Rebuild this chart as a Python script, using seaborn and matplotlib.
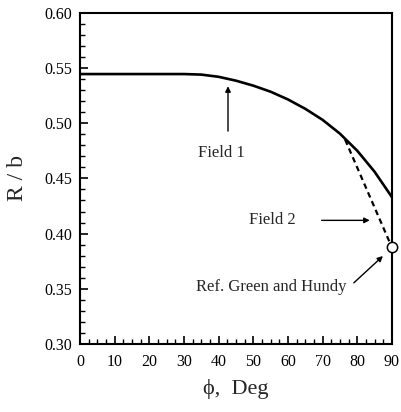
import matplotlib
matplotlib.use("Agg")
import matplotlib.pyplot as plt
import seaborn as sns
import pandas as pd
from matplotlib.ticker import MultipleLocator, FormatStrFormatter

# Field 1 (solid curve)
phi1 = [0, 10, 20, 30, 35, 40, 45, 50, 55, 60, 65, 70, 75, 80, 85, 90]
rb1 = [0.5445, 0.5445, 0.5445, 0.5445, 0.5440, 0.5420, 0.5385, 0.5340, 0.5285, 0.5215, 0.5130, 0.5030, 0.4905, 0.4750, 0.4560, 0.4330]
# Field 2 (dashed)
phi2 = [76.5, 89.5]
rb2 = [0.4850, 0.3910]
# Reference point (Green and Hundy)
phi_ref = [90]
rb_ref = [0.388]

df1 = pd.DataFrame({"phi": phi1, "rb": rb1})
df2 = pd.DataFrame({"phi": phi2, "rb": rb2})
dfr = pd.DataFrame({"phi": phi_ref, "rb": rb_ref})

sns.set_theme(style="ticks")
plt.rcParams["font.family"] = ["Liberation Serif", "DejaVu Serif"]

fig = plt.figure(figsize=(4.02, 4.12), dpi=100)
ax = fig.add_axes([0.199, 0.165, 0.776, 0.804])

sns.lineplot(data=df1, x="phi", y="rb", ax=ax, color="black", lw=1.9)
sns.lineplot(data=df2, x="phi", y="rb", ax=ax, color="black", lw=1.6, linestyle=(0, (2.5, 1.8)))
sns.scatterplot(data=dfr, x="phi", y="rb", ax=ax, s=55, facecolor="white", edgecolor="black",
                linewidth=1.1, zorder=5, clip_on=False)

ax.set_xlim(0, 90)
ax.set_ylim(0.30, 0.60)
ax.xaxis.set_major_locator(MultipleLocator(10))
ax.xaxis.set_minor_locator(MultipleLocator(2.5))
ax.yaxis.set_major_locator(MultipleLocator(0.05))
ax.yaxis.set_minor_locator(MultipleLocator(0.01))
ax.yaxis.set_major_formatter(FormatStrFormatter("%.2f"))
ax.tick_params(which="both", direction="in", top=False, right=False, colors="black", labelsize=11.5)
ax.tick_params(axis="x", which="major", pad=7)
ax.tick_params(axis="y", which="major", pad=5.5)
ax.tick_params(which="major", length=6, width=1.2)
ax.tick_params(which="minor", length=3.5, width=1.0)
for s in ax.spines.values():
    s.set_linewidth(1.5)
    s.set_color("black")

ax.set_xlabel("ϕ,  Deg", fontsize=16, labelpad=7)
ax.set_ylabel("R / b", fontsize=17, labelpad=12)

arrow = dict(arrowstyle="-|>", color="black", lw=1.0, shrinkA=0, shrinkB=0, mutation_scale=8)

ax.text(40.9, 0.473, "Field 1", ha="center", va="center", fontsize=12)
ax.annotate("", xy=(42.7, 0.5335), xytext=(42.7, 0.4928), arrowprops=arrow)

ax.text(55.6, 0.412, "Field 2", ha="center", va="center", fontsize=12)
ax.annotate("", xy=(83.6, 0.412), xytext=(69.7, 0.412), arrowprops=arrow)

ax.text(55.3, 0.352, "Ref. Green and Hundy", ha="center", va="center", fontsize=12)
ax.annotate("", xy=(87.4, 0.3797), xytext=(79.0, 0.3554), arrowprops=arrow)

fig.savefig("out.png", dpi=100)
